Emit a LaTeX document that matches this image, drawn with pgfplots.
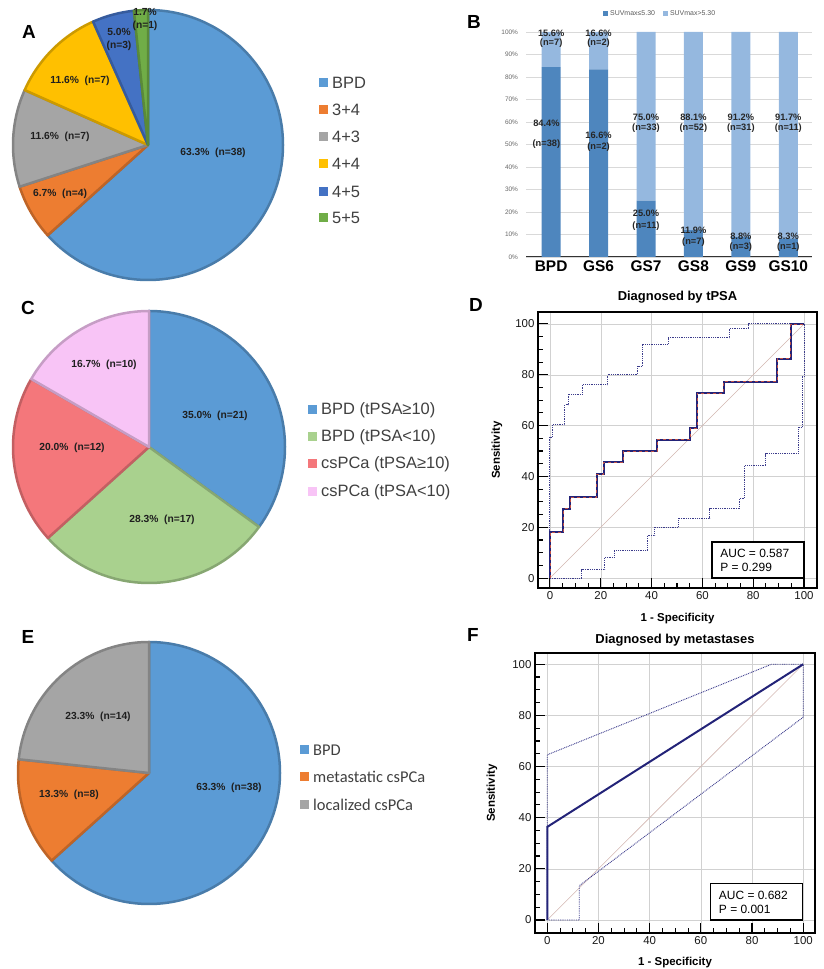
\documentclass[border=0pt]{standalone}
\usepackage{pgfplots}
\pgfplotsset{compat=1.18}
\usepackage{fontspec}
\setmainfont{Liberation Sans}
\newfontfamily\carlito{Carlito}
\newcommand{\fsz}[2]{\fontsize{#1}{#2}\selectfont}
\definecolor{cBlue}{HTML}{5B9BD5}
\definecolor{cOrange}{HTML}{ED7D31}
\definecolor{cGray}{HTML}{A5A5A5}
\definecolor{cYellow}{HTML}{FFC000}
\definecolor{cDBlue}{HTML}{4472C4}
\definecolor{cGreen}{HTML}{70AD47}
\definecolor{cLGreen}{HTML}{A9D18E}
\definecolor{cRed}{HTML}{F4777B}
\definecolor{cPink}{HTML}{F8C4F6}
\definecolor{bDark}{HTML}{4E86BE}
\definecolor{bLight}{HTML}{95B8DF}
\definecolor{navy}{RGB}{35,35,120}
\definecolor{ciCol}{RGB}{60,60,140}
\definecolor{diagCol}{RGB}{210,182,176}
\definecolor{dashRed}{RGB}{190,80,70}
% start angle, delta angle, radius, colour
\newcommand{\slice}[4]{\fill[#4, draw=#4!80!black, line width=2.5bp, line join=round] (axis cs:0,0) -- ++(#1:#3bp) arc[start angle=#1, delta angle=#2, radius=#3bp] -- cycle;}
\tikzset{
  lbl/.style={font=\bfseries\fsz{10.3}{12.5}, text=black!88, align=center, inner sep=0pt},
  leg/.style={font=\fsz{16.5}{18}, text=black!75, anchor=west, inner sep=0pt},
  blbl/.style={font=\bfseries\fsz{9.3}{10}, text=black!85, inner sep=0pt},
  panel/.style={font=\bfseries\fsz{19}{20}, inner sep=0pt},
}
\pgfplotsset{
  pie/.style={hide axis, x=1bp, y=1bp, xmin=-150, xmax=150, ymin=-150, ymax=150, clip=false, anchor=center},
  bgeom/.style={at={(526bp,712bp)}, anchor=south west, scale only axis,
    width=286bp, height=225bp, xmin=-0.53, xmax=5.5, ymin=0, ymax=100, clip=false},
  roc/.style={scale only axis, anchor=south west,
    xtick={0,20,...,100}, ytick={0,20,...,100}, minor tick num=3,
    tick align=inside, xtick pos=bottom, ytick pos=left,
    major tick length=10bp, minor tick length=5bp,
    tick style={black, line width=1.1bp},
    axis line style={black, line width=1.6bp},
    grid=major, grid style={black!18, line width=0.5bp},
    ticklabel style={font=\fsz{11.5}{13}, text=black!90},
    /pgf/number format/assume math mode=true,
    every axis title shift=0pt,
    title style={anchor=center, font=\bfseries\fsz{13}{15}},
    xlabel={1 - Specificity}, ylabel={Sensitivity},
    label style={font=\bfseries\fsz{11.5}{13}},
    xlabel style={anchor=center}, ylabel style={anchor=center}},
  diag/.style={diagCol, line width=0.6bp},
  rocl/.style={navy, line width=2bp},
  ci/.style={ciCol, line width=0.9bp, dash pattern=on 0.9bp off 0.9bp},
}
\begin{document}
\begin{tikzpicture}
\path[use as bounding box] (0,0) rectangle (824bp,969bp);

% ---------------- Panel A ----------------
\node[panel] at (29bp,937bp) {A};
\begin{axis}[pie, at={(148bp,824bp)}]
\slice{90}{-38*6}{135}{cBlue}
\slice{-138}{-4*6}{135}{cOrange}
\slice{-162}{-7*6}{135}{cGray}
\slice{-204}{-7*6}{135}{cYellow}
\slice{-246}{-3*6}{135}{cDBlue}
\slice{-264}{-1*6}{135}{cGreen}
\node[lbl] at (axis cs:65,-8) {63.3\%\ \ (n=38)};
\node[lbl] at (axis cs:-88,-49) {6.7\%\ \ (n=4)};
\node[lbl] at (axis cs:-88,8) {11.6\%\ \ (n=7)};
\node[lbl] at (axis cs:-68,64) {11.6\%\ \ (n=7)};
\node[lbl] at (axis cs:-29,105.5) {5.0\%\\(n=3)};
\node[lbl] at (axis cs:-3,125.5) {1.7\%\\(n=1)};
\fill[cBlue]   (axis cs:171,57.5)  rectangle (axis cs:180,66.5);
\fill[cOrange] (axis cs:171,30.5)  rectangle (axis cs:180,39.5);
\fill[cGray]   (axis cs:171,3.5)   rectangle (axis cs:180,12.5);
\fill[cYellow] (axis cs:171,-23.5) rectangle (axis cs:180,-14.5);
\fill[cDBlue]  (axis cs:171,-51.5) rectangle (axis cs:180,-42.5);
\fill[cGreen]  (axis cs:171,-77.5) rectangle (axis cs:180,-68.5);
\node[leg] at (axis cs:184,62) {BPD};
\node[leg] at (axis cs:184,35) {3+4};
\node[leg] at (axis cs:184,8) {4+3};
\node[leg] at (axis cs:184,-19) {4+4};
\node[leg] at (axis cs:184,-47) {4+5};
\node[leg] at (axis cs:184,-73) {5+5};
\end{axis}

% ---------------- Panel B ----------------
\node[panel] at (474bp,947bp) {B};
\begin{axis}[bgeom, ybar stacked, bar width=19bp,
  xtick={0,1,2,3,4,5}, xticklabels={BPD,GS6,GS7,GS8,GS9,GS10},
  ytick={0,10,...,100},
  yticklabels={0\%,10\%,20\%,30\%,40\%,50\%,60\%,70\%,80\%,90\%,100\%},
  ymajorgrids, grid style={black!15, line width=0.6bp},
  axis x line*=bottom, axis y line*=left,
  x axis line style={black!80, line width=1bp},
  y axis line style={draw=none},
  tick style={draw=none},
  yticklabel style={font=\fsz{6.5}{7}, text=black!60, xshift=-4.5bp},
  xticklabel style={font=\bfseries\fsz{15.5}{17}, text=black},
  legend style={at={(0.469,1.08)}, anchor=center, draw=none, fill=none,
    font=\fsz{7}{8}, text=black!65, legend columns=2,
    /tikz/every even column/.append style={column sep=6bp}},
  legend cell align=left]
\addplot[fill=bDark, draw=none, legend image code/.code={\fill[bDark] (0bp,-2.5bp) rectangle (5bp,2.5bp);}]
  coordinates {(0,84.4) (1,83.4) (2,25) (3,11.9) (4,8.8) (5,8.3)};
\addplot[fill=bLight, draw=none, legend image code/.code={\fill[bLight] (0bp,-2.5bp) rectangle (5bp,2.5bp);}]
  coordinates {(0,15.6) (1,16.6) (2,75) (3,88.1) (4,91.2) (5,91.7)};
\legend{SUVmax≤5.30, SUVmax>5.30}
\end{axis}
\begin{axis}[bgeom, hide axis]
\node[blbl] at (axis cs:0,99.6) {15.6\%};
\node[blbl] at (axis cs:0,95.1) {(n=7)};
\node[blbl] at (axis cs:-0.1,59.6) {84.4\%};
\node[blbl] at (axis cs:-0.1,50.2) {(n=38)};
\node[blbl] at (axis cs:1,99.6) {16.6\%};
\node[blbl] at (axis cs:1,95.1) {(n=2)};
\node[blbl] at (axis cs:1,54.2) {16.6\%};
\node[blbl] at (axis cs:1,48.9) {(n=2)};
\node[blbl] at (axis cs:2,62.2) {75.0\%};
\node[blbl] at (axis cs:2,57.3) {(n=33)};
\node[blbl] at (axis cs:2,19.6) {25.0\%};
\node[blbl] at (axis cs:2,13.8) {(n=11)};
\node[blbl] at (axis cs:3,62.2) {88.1\%};
\node[blbl] at (axis cs:3,57.3) {(n=52)};
\node[blbl] at (axis cs:3,12.0) {11.9\%};
\node[blbl] at (axis cs:3,6.7) {(n=7)};
\node[blbl] at (axis cs:4,62.2) {91.2\%};
\node[blbl] at (axis cs:4,57.3) {(n=31)};
\node[blbl] at (axis cs:4,9.3) {8.8\%};
\node[blbl] at (axis cs:4,4.4) {(n=3)};
\node[blbl] at (axis cs:5,62.2) {91.7\%};
\node[blbl] at (axis cs:5,57.3) {(n=11)};
\node[blbl] at (axis cs:5,9.3) {8.3\%};
\node[blbl] at (axis cs:5,4.4) {(n=1)};
\end{axis}

% ---------------- Panel C ----------------
\node[panel] at (28bp,661bp) {C};
\begin{axis}[pie, at={(149bp,522bp)}]
\slice{90}{-21*6}{136}{cBlue}
\slice{-36}{-17*6}{136}{cLGreen}
\slice{-138}{-12*6}{136}{cRed}
\slice{-210}{-10*6}{136}{cPink}
\node[lbl] at (axis cs:66,31) {35.0\%\ \ (n=21)};
\node[lbl] at (axis cs:13,-73) {28.3\%\ \ (n=17)};
\node[lbl] at (axis cs:-77,-1) {20.0\%\ \ (n=12)};
\node[lbl] at (axis cs:-45,82) {16.7\%\ \ (n=10)};
\fill[cBlue]   (axis cs:159,32.5)  rectangle (axis cs:168,41.5);
\fill[cLGreen] (axis cs:159,5.5)   rectangle (axis cs:168,14.5);
\fill[cRed]    (axis cs:159,-21.5) rectangle (axis cs:168,-12.5);
\fill[cPink]   (axis cs:159,-49.5) rectangle (axis cs:168,-40.5);
\node[leg] at (axis cs:172,37) {BPD (tPSA≥10)};
\node[leg] at (axis cs:172,10) {BPD (tPSA<10)};
\node[leg] at (axis cs:172,-17) {csPCa (tPSA≥10)};
\node[leg] at (axis cs:172,-45) {csPCa (tPSA<10)};
\end{axis}

% ---------------- Panel D ----------------
\node[panel] at (476bp,664bp) {D};
\begin{axis}[roc, at={(538bp,381bp)}, width=279bp, height=276bp,
  xmin=-4.7, xmax=105.1, ymin=-3.9, ymax=104.7,
  title={Diagnosed by tPSA}, title style={at={(axis description cs:0.5,1.054)}},
  xlabel style={at={(axis description cs:0.5,-0.109)}},
  ylabel style={at={(axis description cs:-0.147,0.5)}}]
\addplot[diag] coordinates {(0,0) (100,100)};
\addplot[ci] coordinates {(0,0) (0,55.5) (1,55.5) (1,60.3) (5.9,60.3) (5.9,68.2) (7.2,68.2) (7.2,72.4) (12.8,72.4) (12.8,76.1) (22.7,76.1) (22.7,80) (34.5,80) (34.5,83.3) (36.3,83.3) (36.3,92.1) (46.5,92.1) (46.5,94.5) (70.8,94.5) (70.8,98.4) (78,98.4) (78,100) (100,100)};
\addplot[ci] coordinates {(0,0) (12.5,0) (12.5,3.3) (21.6,3.3) (21.6,8.1) (25.3,8.1) (25.3,10.8) (38.3,10.8) (38.3,16.8) (41.3,16.8) (41.3,20.1) (50.5,20.1) (50.5,23.6) (62.9,23.6) (62.9,27.3) (74.7,27.3) (74.7,31.5) (76.7,31.5) (76.7,44.2) (84.9,44.2) (84.9,49) (97.6,49) (97.6,59.3) (99.2,59.3) (99.2,79.4) (100,79.4) (100,100)};
\addplot[rocl] coordinates {(0,0) (0,18.2) (5.3,18.2) (5.3,27.3) (7.9,27.3) (7.9,31.8) (18.4,31.8) (18.4,40.9) (21.1,40.9) (21.1,45.5) (28.9,45.5) (28.9,50) (42.1,50) (42.1,54.5) (55.3,54.5) (55.3,59.1) (57.9,59.1) (57.9,72.7) (68.4,72.7) (68.4,77.3) (89.5,77.3) (89.5,86.4) (94.7,86.4) (94.7,100) (100,100)};
\addplot[dashRed, line width=0.6bp, dash pattern=on 3bp off 3bp] coordinates {(0,0) (0,18.2) (5.3,18.2) (5.3,27.3) (7.9,27.3) (7.9,31.8) (18.4,31.8) (18.4,40.9) (21.1,40.9) (21.1,45.5) (28.9,45.5) (28.9,50) (42.1,50) (42.1,54.5) (55.3,54.5) (55.3,59.1) (57.9,59.1) (57.9,72.7) (68.4,72.7) (68.4,77.3) (89.5,77.3) (89.5,86.4) (94.7,86.4) (94.7,100) (100,100)};
\draw[black, line width=1.3bp, fill=white] (axis cs:63.8,0) rectangle (axis cs:100,14.2);
\node[anchor=west, inner sep=0pt, font=\fsz{12}{14}] at (axis cs:67,9.8) {AUC = 0.587};
\node[anchor=west, inner sep=0pt, font=\fsz{12}{14}] at (axis cs:67,4.3) {P = 0.299};
\end{axis}

% ---------------- Panel E ----------------
\node[panel] at (28bp,332bp) {E};
\begin{axis}[pie, at={(149bp,196bp)}]
\slice{90}{-38*6}{131}{cBlue}
\slice{-138}{-8*6}{131}{cOrange}
\slice{-186}{-14*6}{131}{cGray}
\node[lbl] at (axis cs:80,-15) {63.3\%\ \ (n=38)};
\node[lbl] at (axis cs:-80,-22) {13.3\%\ \ (n=8)};
\node[lbl] at (axis cs:-51,56) {23.3\%\ \ (n=14)};
\fill[cBlue]   (axis cs:151,18.5)  rectangle (axis cs:160,27.5);
\fill[cOrange] (axis cs:151,-8.5)  rectangle (axis cs:160,0.5);
\fill[cGray]   (axis cs:151,-36.5) rectangle (axis cs:160,-27.5);
\node[leg, font=\carlito\fsz{16.5}{18}] at (axis cs:164,23) {BPD};
\node[leg, font=\carlito\fsz{16.5}{18}] at (axis cs:164,-4) {metastatic csPCa};
\node[leg, font=\carlito\fsz{16.5}{18}] at (axis cs:164,-32) {localized csPCa};
\end{axis}

% ---------------- Panel F ----------------
\node[panel] at (473bp,334bp) {F};
\begin{axis}[roc, at={(535bp,36bp)}, width=280bp, height=280bp,
  xmin=-4.8, xmax=104.6, ymin=-5.1, ymax=104.4,
  title={Diagnosed by metastases}, title style={at={(axis description cs:0.5,1.046)}},
  xlabel style={at={(axis description cs:0.5,-0.104)}},
  ylabel style={at={(axis description cs:-0.154,0.5)}}]
\addplot[diag] coordinates {(0,0) (100,100)};
\addplot[ci] coordinates {(0,0) (0,64.6) (87.6,100) (100,100)};
\addplot[ci] coordinates {(0,0) (12.5,0) (12.5,13.4) (100,79.3) (100,100)};
\addplot[rocl] coordinates {(0,0) (0,36.4) (100,100)};
\draw[black, line width=1.3bp, fill=white] (axis cs:63.8,0) rectangle (axis cs:99.7,14.3);
\node[anchor=west, inner sep=0pt, font=\fsz{12}{14}] at (axis cs:67,9.8) {AUC = 0.682};
\node[anchor=west, inner sep=0pt, font=\fsz{12}{14}] at (axis cs:67,4.3) {P = 0.001};
\end{axis}
\end{tikzpicture}
\end{document}
